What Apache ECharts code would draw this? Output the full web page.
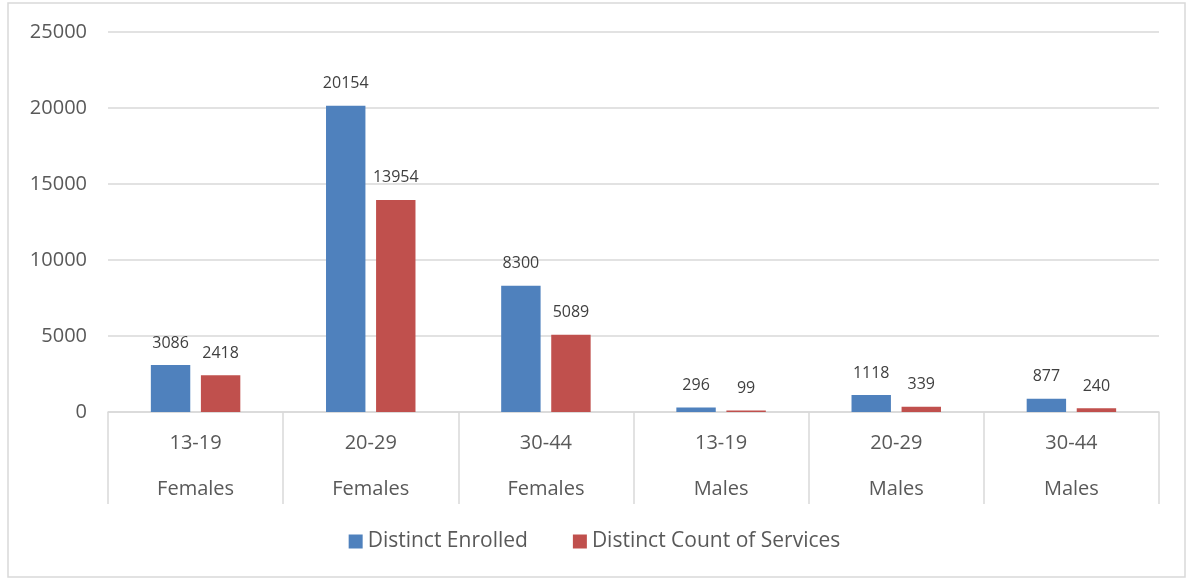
<!DOCTYPE html>
<html lang="en">
<head>
    <meta charset="UTF-8">
    <title>Distinct Enrolled vs Services</title>
    <script src="https://cdn.jsdelivr.net/npm/echarts@6/dist/echarts.min.js"></script>
    <style>
        html, body { margin: 0; padding: 0; background: #fff; }
        #chart { width: 1189px; height: 579px; }
    </style>
</head>
<body>
<div id="chart"></div>
<script>
    // data
    var ageGroups = ['13-19', '20-29', '30-44', '13-19', '20-29', '30-44'];
    var genders = ['Females', 'Females', 'Females', 'Males', 'Males', 'Males'];
    var enrolled = [3086, 20154, 8300, 296, 1118, 877];
    var services = [2418, 13954, 5089, 99, 339, 240];
    var seriesNames = ['Distinct Enrolled', 'Distinct Count of Services'];

    var font = '"Open Sans", "Liberation Sans", sans-serif';
    var grey = '#d9d9d9';
    var textCol = '#595959';

    var mychart = echarts.init(document.getElementById('chart'));

    function barSeries(name, data, color) {
        return {
            name: name,
            type: 'bar',
            xAxisIndex: 0,
            barWidth: '22.5%',
            barGap: '27%',
            itemStyle: { color: color },
            label: {
                show: true,
                position: 'top',
                distance: 14,
                color: '#404040',
                fontSize: 16,
                fontFamily: font
            },
            data: data
        };
    }

    var option = {
        backgroundColor: '#fff',
        animation: false,
        graphic: [{
            type: 'rect',
            shape: { x: 8, y: 3, width: 1177, height: 574 },
            style: { fill: 'none', stroke: grey, lineWidth: 1.5 },
            silent: true
        }],
        grid: { left: 108, right: 30, top: 32, bottom: 167 },
        legend: {
            bottom: 22,
            left: 'center',
            itemWidth: 14,
            itemHeight: 14,
            itemGap: 45,
            icon: 'rect',
            textStyle: { color: textCol, fontSize: 21, fontFamily: font },
            data: seriesNames
        },
        xAxis: [
            {
                type: 'category',
                position: 'bottom',
                data: ageGroups,
                axisLine: { show: true, lineStyle: { color: grey, width: 1.5 } },
                axisTick: { show: true, length: 92, lineStyle: { color: grey, width: 1.5 } },
                axisLabel: { margin: 21, color: textCol, fontSize: 20, fontFamily: font },
                splitLine: { show: false }
            },
            {
                type: 'category',
                position: 'bottom',
                offset: 0,
                data: genders,
                axisLine: { show: false },
                axisTick: { show: false },
                axisLabel: { margin: 67, color: textCol, fontSize: 20, fontFamily: font },
                splitLine: { show: false }
            }
        ],
        yAxis: {
            type: 'value',
            min: 0,
            max: 25000,
            interval: 5000,
            axisLine: { show: false },
            axisTick: { show: false },
            axisLabel: {
                margin: 21,
                color: textCol,
                fontSize: 20,
                fontFamily: font,
                formatter: function (v) { return String(v); }
            },
            splitLine: { lineStyle: { color: grey, width: 1.5 } }
        },
        series: [
            barSeries(seriesNames[0], enrolled, '#4f81bd'),
            barSeries(seriesNames[1], services, '#c0504d')
        ]
    };
    mychart.setOption(option);
</script>
</body>
</html>
